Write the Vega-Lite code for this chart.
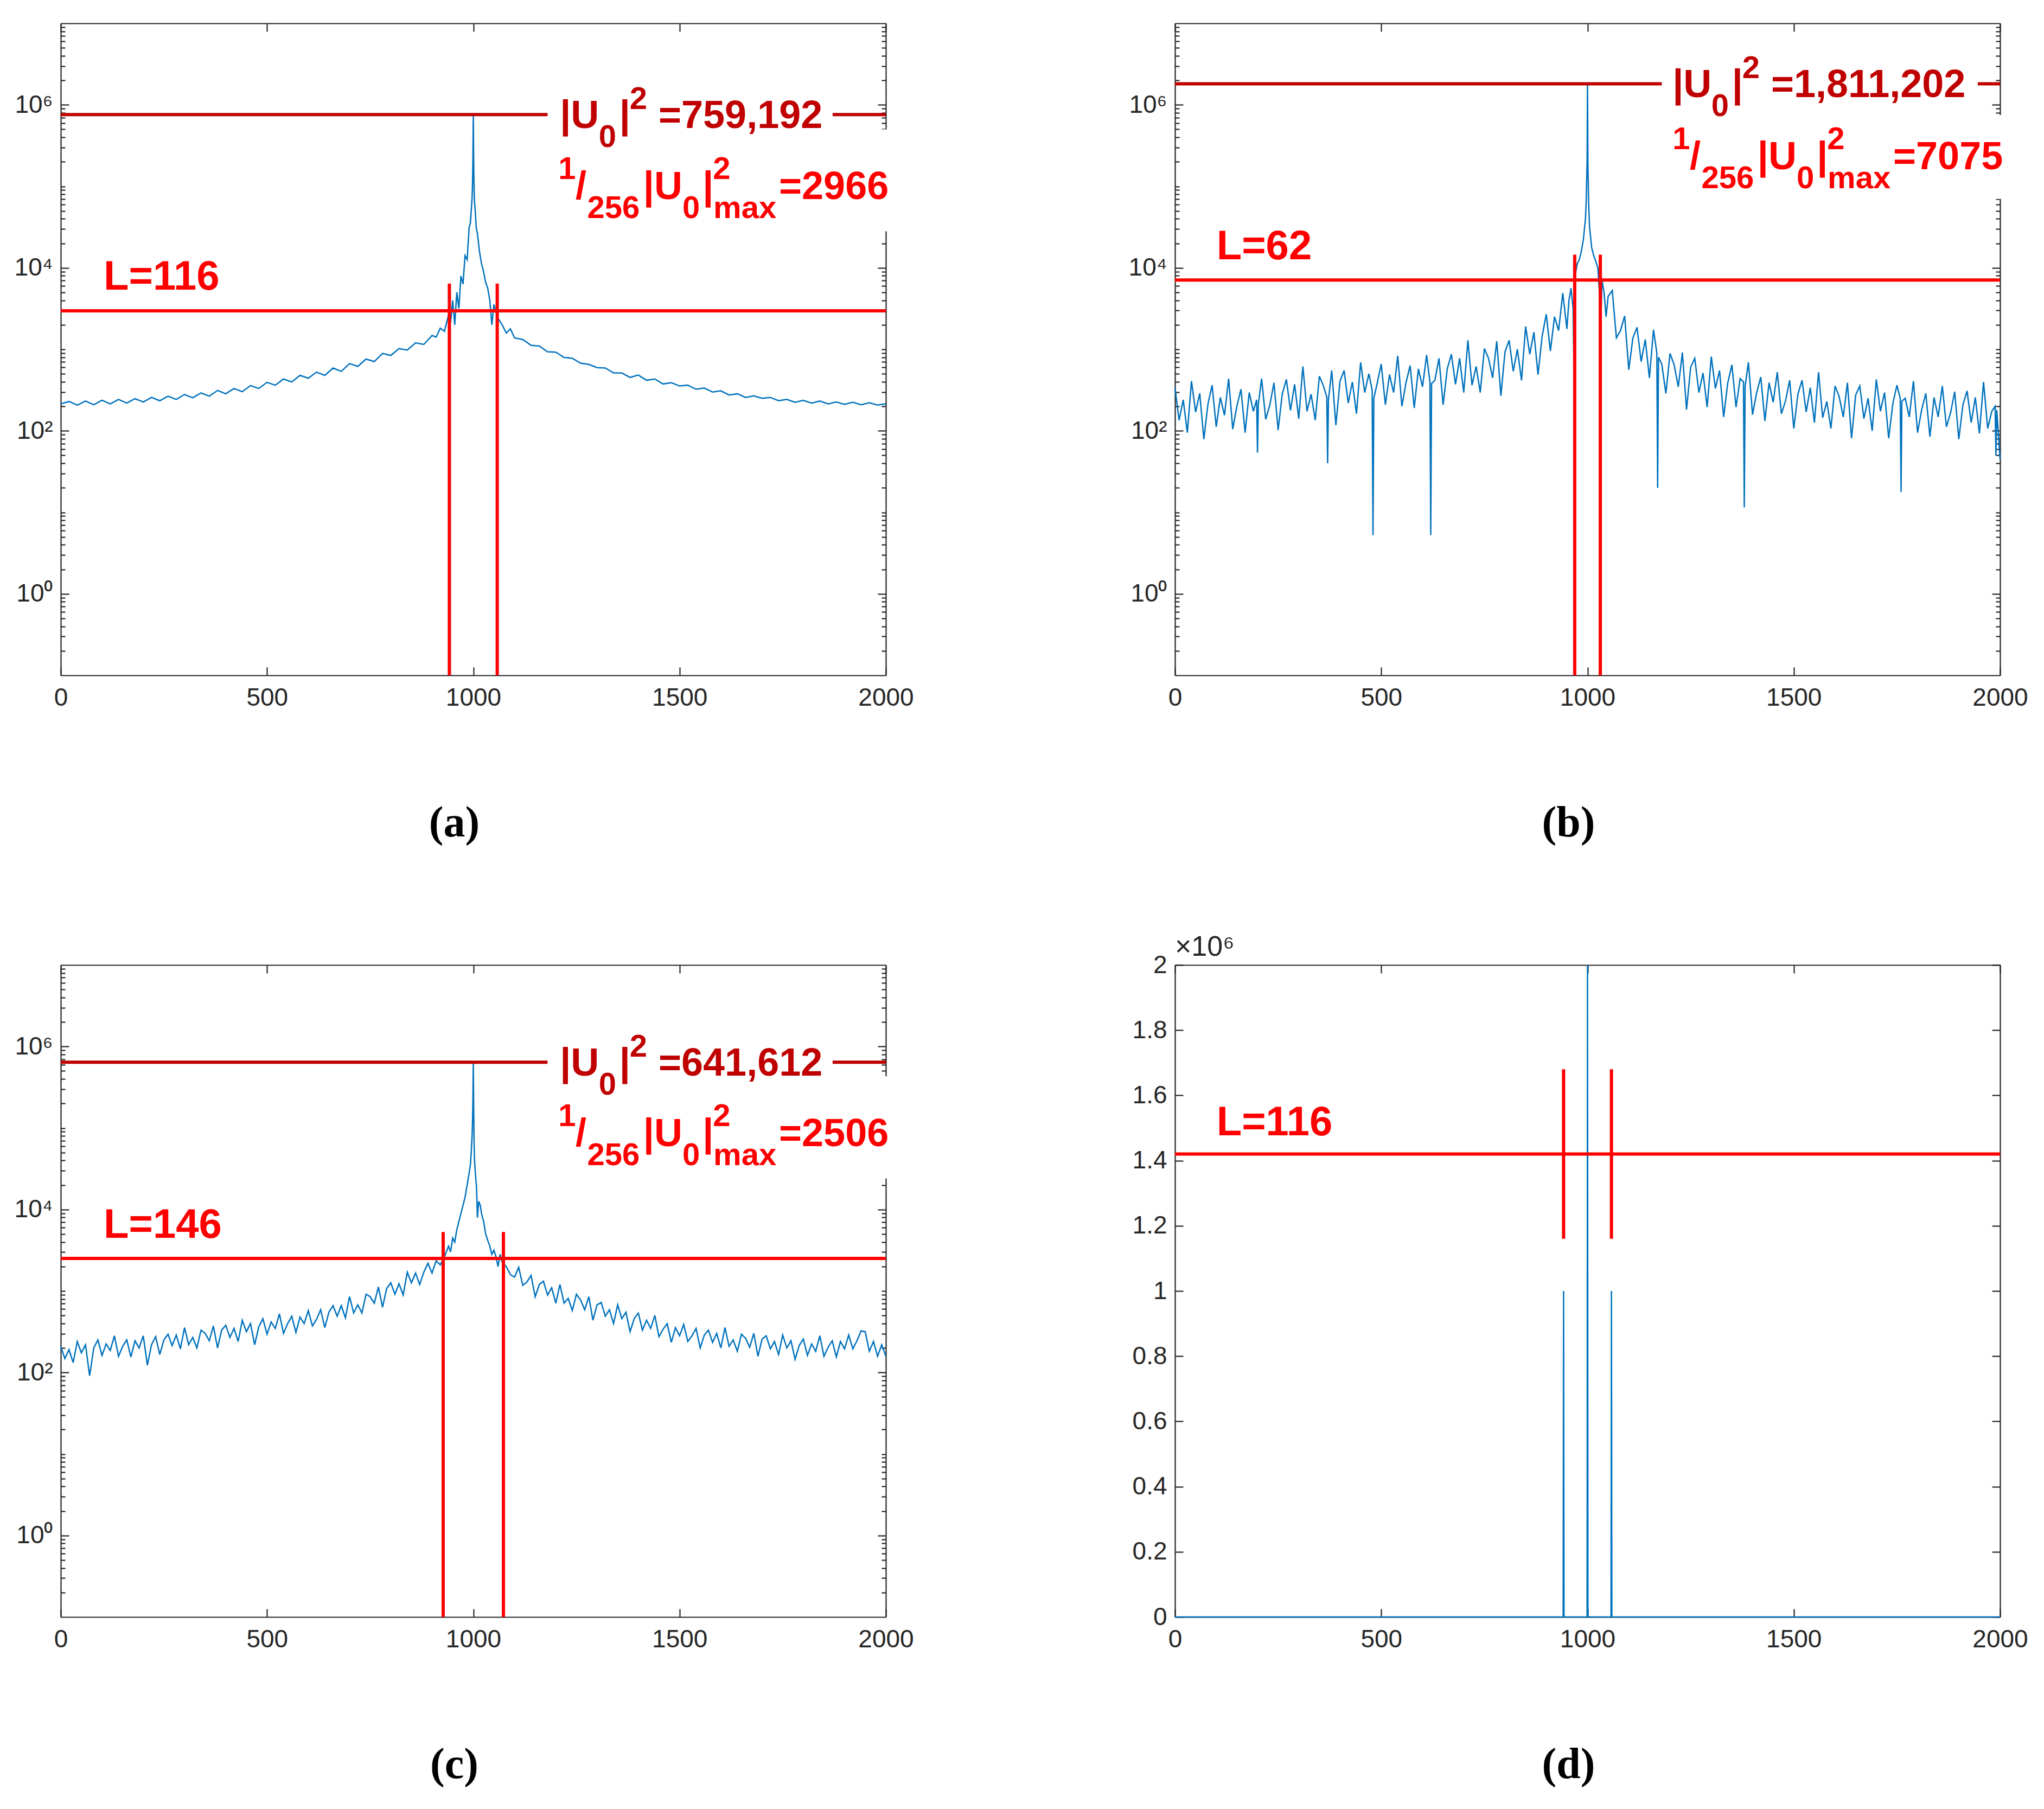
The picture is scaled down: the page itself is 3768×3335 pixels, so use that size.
{
"$schema":"https://vega.github.io/schema/vega-lite/v6.json",
"background":"white",
"padding":{"left":26,"top":41,"right":10,"bottom":10},
"config":{"view":{"stroke":null},"axis":{"grid":false,"domainColor":"#262626","domainWidth":2.2,"tickColor":"#262626","tickWidth":2.2,"labelColor":"#262626","labelFont":"Liberation Sans","labelFontSize":46,"labelFlush":false}},
"datasets":{
"a":[{"x":0,"y":214},{"x":20,"y":229},{"x":40,"y":207},{"x":60,"y":232},{"x":80,"y":209},{"x":100,"y":237},{"x":120,"y":214},{"x":140,"y":243},{"x":160,"y":219},{"x":180,"y":248},{"x":200,"y":226},{"x":220,"y":257},{"x":240,"y":234},{"x":260,"y":266},{"x":280,"y":243},{"x":300,"y":279},{"x":320,"y":254},{"x":340,"y":292},{"x":360,"y":266},{"x":380,"y":313},{"x":400,"y":285},{"x":420,"y":331},{"x":440,"y":302},{"x":460,"y":359},{"x":480,"y":331},{"x":500,"y":394},{"x":520,"y":363},{"x":540,"y":432},{"x":560,"y":398},{"x":580,"y":479},{"x":600,"y":442},{"x":620,"y":525},{"x":640,"y":479},{"x":660,"y":589},{"x":680,"y":537},{"x":700,"y":668},{"x":720,"y":617},{"x":740,"y":759},{"x":760,"y":708},{"x":780,"y":891},{"x":800,"y":841},{"x":820,"y":1023},{"x":840,"y":977},{"x":860,"y":1202},{"x":880,"y":1148},{"x":900,"y":1479},{"x":910,"y":1413},{"x":920,"y":1820},{"x":930,"y":1660},{"x":940,"y":2630},{"x":945,"y":2138},{"x":950,"y":3981},{"x":955,"y":1995},{"x":960,"y":5012},{"x":965,"y":3162},{"x":970,"y":7943},{"x":975,"y":6310},{"x":980,"y":14125},{"x":985,"y":12589},{"x":990,"y":31623},{"x":993,"y":35481},{"x":995,"y":50119},{"x":997,"y":70795},{"x":998,"y":100000},{"x":999,"y":199526},{"x":1000,"y":759192},{"x":1001,"y":177828},{"x":1002,"y":89125},{"x":1003,"y":63096},{"x":1005,"y":47863},{"x":1007,"y":31623},{"x":1010,"y":26303},{"x":1015,"y":15849},{"x":1020,"y":11220},{"x":1025,"y":8913},{"x":1030,"y":6607},{"x":1035,"y":5623},{"x":1040,"y":3981},{"x":1045,"y":1995},{"x":1050,"y":3548},{"x":1055,"y":2818},{"x":1060,"y":2399},{"x":1070,"y":1995},{"x":1080,"y":1585},{"x":1090,"y":1778},{"x":1100,"y":1380},{"x":1120,"y":1318},{"x":1140,"y":1122},{"x":1160,"y":1096},{"x":1180,"y":933},{"x":1200,"y":923},{"x":1220,"y":794},{"x":1240,"y":776},{"x":1260,"y":676},{"x":1280,"y":653},{"x":1300,"y":596},{"x":1320,"y":589},{"x":1340,"y":513},{"x":1360,"y":513},{"x":1380,"y":452},{"x":1400,"y":484},{"x":1420,"y":417},{"x":1440,"y":432},{"x":1460,"y":376},{"x":1480,"y":389},{"x":1500,"y":355},{"x":1520,"y":363},{"x":1540,"y":324},{"x":1560,"y":335},{"x":1580,"y":299},{"x":1600,"y":309},{"x":1620,"y":275},{"x":1640,"y":285},{"x":1660,"y":257},{"x":1680,"y":269},{"x":1700,"y":251},{"x":1720,"y":257},{"x":1740,"y":234},{"x":1760,"y":243},{"x":1780,"y":224},{"x":1800,"y":237},{"x":1820,"y":219},{"x":1840,"y":232},{"x":1860,"y":214},{"x":1880,"y":226},{"x":1900,"y":211},{"x":1920,"y":224},{"x":1940,"y":209},{"x":1960,"y":221},{"x":1980,"y":207},{"x":2000,"y":214}],
"b":[{"x":0,"y":339},{"x":10,"y":135},{"x":20,"y":240},{"x":30,"y":95},{"x":40,"y":407},{"x":50,"y":170},{"x":60,"y":288},{"x":70,"y":79},{"x":80,"y":214},{"x":90,"y":363},{"x":100,"y":112},{"x":110,"y":257},{"x":120,"y":155},{"x":130,"y":437},{"x":140,"y":105},{"x":150,"y":200},{"x":160,"y":324},{"x":170,"y":95},{"x":180,"y":295},{"x":190,"y":174},{"x":198,"y":240},{"x":200,"y":54},{"x":202,"y":209},{"x":210,"y":437},{"x":220,"y":138},{"x":230,"y":209},{"x":240,"y":389},{"x":250,"y":102},{"x":260,"y":282},{"x":270,"y":427},{"x":280,"y":178},{"x":290,"y":372},{"x":300,"y":141},{"x":310,"y":617},{"x":320,"y":174},{"x":330,"y":282},{"x":340,"y":135},{"x":350,"y":468},{"x":360,"y":355},{"x":368,"y":260},{"x":370,"y":40},{"x":372,"y":240},{"x":380,"y":550},{"x":390,"y":117},{"x":400,"y":407},{"x":410,"y":550},{"x":420,"y":219},{"x":430,"y":398},{"x":440,"y":162},{"x":450,"y":692},{"x":460,"y":295},{"x":470,"y":501},{"x":478,"y":316},{"x":480,"y":5.25},{"x":482,"y":251},{"x":490,"y":380},{"x":500,"y":661},{"x":510,"y":209},{"x":520,"y":490},{"x":530,"y":295},{"x":540,"y":832},{"x":550,"y":200},{"x":560,"y":389},{"x":570,"y":631},{"x":580,"y":191},{"x":590,"y":575},{"x":600,"y":347},{"x":610,"y":851},{"x":618,"y":400},{"x":620,"y":5.25},{"x":622,"y":380},{"x":630,"y":417},{"x":640,"y":776},{"x":650,"y":209},{"x":660,"y":575},{"x":670,"y":871},{"x":680,"y":372},{"x":690,"y":776},{"x":700,"y":295},{"x":710,"y":1288},{"x":720,"y":363},{"x":730,"y":617},{"x":740,"y":295},{"x":750,"y":1023},{"x":760,"y":776},{"x":770,"y":447},{"x":780,"y":1259},{"x":790,"y":269},{"x":800,"y":933},{"x":810,"y":1288},{"x":820,"y":537},{"x":830,"y":1000},{"x":840,"y":417},{"x":850,"y":1905},{"x":860,"y":871},{"x":870,"y":1622},{"x":880,"y":490},{"x":890,"y":1445},{"x":900,"y":2692},{"x":910,"y":955},{"x":920,"y":2512},{"x":930,"y":1698},{"x":940,"y":4898},{"x":950,"y":1778},{"x":955,"y":3981},{"x":960,"y":5623},{"x":965,"y":3162},{"x":967,"y":562},{"x":970,"y":7943},{"x":975,"y":11220},{"x":980,"y":12589},{"x":985,"y":15849},{"x":990,"y":22387},{"x":995,"y":39811},{"x":997,"y":70795},{"x":999,"y":199526},{"x":1000,"y":1811202},{"x":1001,"y":177828},{"x":1003,"y":56234},{"x":1005,"y":31623},{"x":1010,"y":17783},{"x":1015,"y":14125},{"x":1020,"y":12023},{"x":1025,"y":10000},{"x":1030,"y":3981},{"x":1032,"y":1778},{"x":1035,"y":7079},{"x":1040,"y":5012},{"x":1045,"y":2512},{"x":1050,"y":4467},{"x":1060,"y":5248},{"x":1070,"y":1380},{"x":1080,"y":1698},{"x":1090,"y":2570},{"x":1100,"y":562},{"x":1110,"y":1380},{"x":1120,"y":1862},{"x":1130,"y":708},{"x":1140,"y":1318},{"x":1150,"y":447},{"x":1160,"y":1738},{"x":1168,"y":900},{"x":1170,"y":20},{"x":1172,"y":800},{"x":1180,"y":661},{"x":1190,"y":288},{"x":1200,"y":891},{"x":1210,"y":646},{"x":1220,"y":347},{"x":1230,"y":912},{"x":1240,"y":182},{"x":1250,"y":603},{"x":1260,"y":776},{"x":1270,"y":295},{"x":1280,"y":513},{"x":1290,"y":195},{"x":1300,"y":813},{"x":1310,"y":331},{"x":1320,"y":550},{"x":1330,"y":148},{"x":1340,"y":389},{"x":1350,"y":646},{"x":1360,"y":195},{"x":1370,"y":437},{"x":1378,"y":400},{"x":1380,"y":11.5},{"x":1382,"y":350},{"x":1390,"y":692},{"x":1400,"y":158},{"x":1410,"y":295},{"x":1420,"y":457},{"x":1430,"y":132},{"x":1440,"y":389},{"x":1450,"y":224},{"x":1460,"y":525},{"x":1470,"y":162},{"x":1480,"y":234},{"x":1490,"y":417},{"x":1500,"y":107},{"x":1510,"y":282},{"x":1520,"y":417},{"x":1530,"y":170},{"x":1540,"y":339},{"x":1550,"y":126},{"x":1560,"y":525},{"x":1570,"y":145},{"x":1580,"y":229},{"x":1590,"y":107},{"x":1600,"y":355},{"x":1610,"y":263},{"x":1620,"y":148},{"x":1630,"y":389},{"x":1640,"y":81},{"x":1650,"y":275},{"x":1660,"y":355},{"x":1670,"y":141},{"x":1680,"y":251},{"x":1690,"y":100},{"x":1700,"y":427},{"x":1710,"y":174},{"x":1720,"y":295},{"x":1730,"y":81},{"x":1740,"y":214},{"x":1750,"y":363},{"x":1758,"y":250},{"x":1760,"y":17.8},{"x":1762,"y":230},{"x":1770,"y":251},{"x":1780,"y":148},{"x":1790,"y":407},{"x":1800,"y":95},{"x":1810,"y":182},{"x":1820,"y":288},{"x":1830,"y":85},{"x":1840,"y":257},{"x":1850,"y":148},{"x":1860,"y":355},{"x":1870,"y":112},{"x":1880,"y":166},{"x":1890,"y":302},{"x":1900,"y":79},{"x":1910,"y":209},{"x":1920,"y":309},{"x":1930,"y":126},{"x":1940,"y":257},{"x":1950,"y":93},{"x":1960,"y":398},{"x":1970,"y":107},{"x":1980,"y":174},{"x":1988,"y":200},{"x":1990,"y":50},{"x":1992,"y":180},{"x":2000,"y":45}],
"c":[{"x":0,"y":209},{"x":10,"y":148},{"x":20,"y":191},{"x":30,"y":132},{"x":40,"y":240},{"x":50,"y":174},{"x":60,"y":219},{"x":70,"y":91},{"x":80,"y":200},{"x":90,"y":251},{"x":100,"y":162},{"x":110,"y":224},{"x":120,"y":186},{"x":130,"y":282},{"x":140,"y":158},{"x":150,"y":209},{"x":160,"y":251},{"x":170,"y":155},{"x":180,"y":245},{"x":190,"y":200},{"x":200,"y":282},{"x":210,"y":123},{"x":220,"y":219},{"x":230,"y":275},{"x":240,"y":166},{"x":250,"y":251},{"x":260,"y":295},{"x":270,"y":214},{"x":280,"y":288},{"x":290,"y":195},{"x":300,"y":355},{"x":310,"y":219},{"x":320,"y":269},{"x":330,"y":200},{"x":340,"y":331},{"x":350,"y":302},{"x":360,"y":245},{"x":370,"y":372},{"x":380,"y":200},{"x":390,"y":331},{"x":400,"y":380},{"x":410,"y":269},{"x":420,"y":347},{"x":430,"y":240},{"x":440,"y":437},{"x":450,"y":316},{"x":460,"y":398},{"x":470,"y":219},{"x":480,"y":363},{"x":490,"y":457},{"x":500,"y":295},{"x":510,"y":417},{"x":520,"y":347},{"x":530,"y":525},{"x":540,"y":302},{"x":550,"y":398},{"x":560,"y":490},{"x":570,"y":309},{"x":580,"y":479},{"x":590,"y":398},{"x":600,"y":575},{"x":610,"y":372},{"x":620,"y":447},{"x":630,"y":589},{"x":640,"y":355},{"x":650,"y":550},{"x":660,"y":661},{"x":670,"y":490},{"x":680,"y":661},{"x":690,"y":468},{"x":700,"y":851},{"x":710,"y":537},{"x":720,"y":676},{"x":730,"y":537},{"x":740,"y":912},{"x":750,"y":851},{"x":760,"y":708},{"x":770,"y":1122},{"x":780,"y":631},{"x":790,"y":1072},{"x":800,"y":1259},{"x":810,"y":912},{"x":820,"y":1230},{"x":830,"y":891},{"x":840,"y":1698},{"x":850,"y":1259},{"x":860,"y":1660},{"x":870,"y":1202},{"x":880,"y":1698},{"x":890,"y":2188},{"x":900,"y":1660},{"x":910,"y":2344},{"x":920,"y":2089},{"x":930,"y":2630},{"x":940,"y":3548},{"x":945,"y":3020},{"x":950,"y":4467},{"x":955,"y":3981},{"x":960,"y":5623},{"x":965,"y":7079},{"x":970,"y":8913},{"x":975,"y":11220},{"x":980,"y":14125},{"x":985,"y":19953},{"x":990,"y":28184},{"x":993,"y":35481},{"x":995,"y":50119},{"x":997,"y":79433},{"x":998,"y":112202},{"x":999,"y":199526},{"x":1000,"y":641612},{"x":1001,"y":158489},{"x":1002,"y":63096},{"x":1003,"y":39811},{"x":1005,"y":28184},{"x":1008,"y":17783},{"x":1010,"y":7943},{"x":1013,"y":12589},{"x":1017,"y":11220},{"x":1020,"y":8913},{"x":1025,"y":7079},{"x":1030,"y":5012},{"x":1035,"y":4169},{"x":1040,"y":3548},{"x":1045,"y":2818},{"x":1050,"y":3162},{"x":1055,"y":2630},{"x":1060,"y":1995},{"x":1065,"y":2818},{"x":1070,"y":2239},{"x":1080,"y":1995},{"x":1090,"y":1585},{"x":1100,"y":1479},{"x":1110,"y":1950},{"x":1120,"y":1175},{"x":1130,"y":1288},{"x":1140,"y":1549},{"x":1150,"y":851},{"x":1160,"y":1202},{"x":1170,"y":1318},{"x":1180,"y":891},{"x":1190,"y":1096},{"x":1200,"y":708},{"x":1210,"y":1202},{"x":1220,"y":708},{"x":1230,"y":813},{"x":1240,"y":575},{"x":1250,"y":912},{"x":1260,"y":776},{"x":1270,"y":589},{"x":1280,"y":851},{"x":1290,"y":437},{"x":1300,"y":676},{"x":1310,"y":724},{"x":1320,"y":490},{"x":1330,"y":589},{"x":1340,"y":398},{"x":1350,"y":676},{"x":1360,"y":457},{"x":1370,"y":550},{"x":1380,"y":316},{"x":1390,"y":457},{"x":1400,"y":537},{"x":1410,"y":331},{"x":1420,"y":437},{"x":1430,"y":347},{"x":1440,"y":501},{"x":1450,"y":275},{"x":1460,"y":339},{"x":1470,"y":398},{"x":1480,"y":234},{"x":1490,"y":355},{"x":1500,"y":282},{"x":1510,"y":389},{"x":1520,"y":240},{"x":1530,"y":282},{"x":1540,"y":347},{"x":1550,"y":200},{"x":1560,"y":288},{"x":1570,"y":331},{"x":1580,"y":234},{"x":1590,"y":302},{"x":1600,"y":200},{"x":1610,"y":355},{"x":1620,"y":209},{"x":1630,"y":251},{"x":1640,"y":182},{"x":1650,"y":295},{"x":1660,"y":263},{"x":1670,"y":204},{"x":1680,"y":302},{"x":1690,"y":158},{"x":1700,"y":257},{"x":1710,"y":282},{"x":1720,"y":195},{"x":1730,"y":240},{"x":1740,"y":166},{"x":1750,"y":288},{"x":1760,"y":200},{"x":1770,"y":245},{"x":1780,"y":145},{"x":1790,"y":214},{"x":1800,"y":257},{"x":1810,"y":162},{"x":1820,"y":224},{"x":1830,"y":182},{"x":1840,"y":282},{"x":1850,"y":158},{"x":1860,"y":204},{"x":1870,"y":245},{"x":1880,"y":155},{"x":1890,"y":240},{"x":1900,"y":195},{"x":1910,"y":288},{"x":1920,"y":195},{"x":1930,"y":245},{"x":1940,"y":324},{"x":1950,"y":316},{"x":1960,"y":182},{"x":1970,"y":240},{"x":1980,"y":158},{"x":1990,"y":219},{"x":2000,"y":158}],
"d":[{"x":0,"y":0},{"x":941,"y":0},{"x":942,"y":1000000},{"x":943,"y":0},{"x":999,"y":0},{"x":1000,"y":2000000},{"x":1001,"y":0},{"x":1057,"y":0},{"x":1058,"y":1000000},{"x":1059,"y":0},{"x":2000,"y":0}]
},
"columns":2,
"bounds":"flush",
"spacing":{"row":534,"column":533},
"concat":[
{"width":1521,"height":1202,
"title":{"text":"(a)","orient":"bottom","font":"Liberation Serif","fontSize":80,"fontWeight":"bold","color":"black","offset":170,"dx":-35},
"resolve":{"axis":{"x":"independent","y":"independent"}},
"layer":[
{"data":{"name":"a"},"mark":{"type":"line","color":"#0072BD","strokeWidth":2.5},
"encoding":{"x":{"field":"x","type":"quantitative","scale":{"domain":[0,2000],"nice":false,"zero":false},"axis":{"orient":"bottom","values":[0,500,1000,1500,2000],"format":"d","tickSize":-15,"labelPadding":34,"title":null}},
"y":{"field":"y","type":"quantitative","scale":{"type":"log","domain":[0.1,10000000],"nice":false},"axis":{"orient":"left","values":[1,100,10000,1000000],"labelExpr":"datum.value == 1 ? '10⁰' : datum.value == 100 ? '10²' : datum.value == 10000 ? '10⁴' : '10⁶'","tickSize":-15,"labelPadding":30,"title":null}}}},
{"data":{"values":[{"x":0,"x2":2000,"y":2966}]},"mark":{"type":"rule","color":"#FF0000","strokeWidth":6},
"encoding":{"x":{"field":"x","type":"quantitative","scale":{"domain":[0,2000],"nice":false,"zero":false},"axis":{"orient":"top","values":[0,500,1000,1500,2000],"tickSize":-15,"labels":false,"title":null}},"x2":{"field":"x2"},
"y":{"field":"y","type":"quantitative","scale":{"type":"log","domain":[0.1,10000000],"nice":false},"axis":{"orient":"right","values":[1,100,10000,1000000],"tickSize":-15,"labels":false,"title":null}}}},
{"data":{"values":[{"x":942,"y":0.1,"y2":6400},{"x":1058,"y":0.1,"y2":6400}]},"mark":{"type":"rule","color":"#FF0000","strokeWidth":6},
"encoding":{"x":{"field":"x","type":"quantitative","scale":{"domain":[0,2000],"nice":false,"zero":false},"axis":null},
"y":{"field":"y","type":"quantitative","scale":{"type":"log","domain":[0.1,10000000],"nice":false},"axis":{"orient":"left","values":[0.2,0.3,0.4,0.5,0.6,0.7,0.8,0.9,2,3,4,5,6,7,8,9,10,20,30,40,50,60,70,80,90,200,300,400,500,600,700,800,900,1000,2000,3000,4000,5000,6000,7000,8000,9000,20000,30000,40000,50000,60000,70000,80000,90000,100000,200000,300000,400000,500000,600000,700000,800000,900000,2000000,3000000,4000000,5000000,6000000,7000000,8000000,9000000],"tickSize":-8,"labels":false,"domain":false,"title":null}},"y2":{"field":"y2"}}},
{"data":{"values":[{"x":0,"x2":1180,"y":759192},{"x":1871,"x2":2000,"y":759192}]},"mark":{"type":"rule","color":"#C00000","strokeWidth":6},
"encoding":{"x":{"field":"x","type":"quantitative","scale":{"domain":[0,2000],"nice":false,"zero":false},"axis":null},"x2":{"field":"x2"},
"y":{"field":"y","type":"quantitative","scale":{"type":"log","domain":[0.1,10000000],"nice":false},"axis":{"orient":"right","values":[0.2,0.3,0.4,0.5,0.6,0.7,0.8,0.9,2,3,4,5,6,7,8,9,10,20,30,40,50,60,70,80,90,200,300,400,500,600,700,800,900,1000,2000,3000,4000,5000,6000,7000,8000,9000,20000,30000,40000,50000,60000,70000,80000,90000,100000,200000,300000,400000,500000,600000,700000,800000,900000,2000000,3000000,4000000,5000000,6000000,7000000,8000000,9000000],"tickSize":-8,"labels":false,"domain":false,"title":null}}}},
{"data":{"values":[{"x":1190,"x2":2045,"y":28000,"y2":500000}]},"mark":{"type":"rect","color":"white"},
"encoding":{"x":{"field":"x","type":"quantitative","scale":{"domain":[0,2000],"nice":false,"zero":false},"axis":null},"x2":{"field":"x2"},
"y":{"field":"y","type":"quantitative","scale":{"type":"log","domain":[0.1,10000000],"nice":false},"axis":null},"y2":{"field":"y2"}}},
{"data":{"values":[{"x":1210,"y":759192,"t":"|U"},{"x":1354,"y":759192,"t":"|"},{"x":1449,"y":759192,"t":"=759,192"}]},"mark":{"type":"text","align":"left","baseline":"alphabetic","dy":25,"font":"Liberation Sans","fontWeight":"bold","fontSize":72,"color":"#C00000"},
"encoding":{"x":{"field":"x","type":"quantitative","scale":{"domain":[0,2000],"nice":false,"zero":false},"axis":null},"y":{"field":"y","type":"quantitative","scale":{"type":"log","domain":[0.1,10000000],"nice":false},"axis":null},"text":{"field":"t"}}},
{"data":{"values":[{"x":1304,"y":759192,"t":"0"}]},"mark":{"type":"text","align":"left","baseline":"alphabetic","dy":60,"font":"Liberation Sans","fontWeight":"bold","fontSize":58,"color":"#C00000"},
"encoding":{"x":{"field":"x","type":"quantitative","scale":{"domain":[0,2000],"nice":false,"zero":false},"axis":null},"y":{"field":"y","type":"quantitative","scale":{"type":"log","domain":[0.1,10000000],"nice":false},"axis":null},"text":{"field":"t"}}},
{"data":{"values":[{"x":1379,"y":759192,"t":"2"}]},"mark":{"type":"text","align":"left","baseline":"alphabetic","dy":-10,"font":"Liberation Sans","fontWeight":"bold","fontSize":58,"color":"#C00000"},
"encoding":{"x":{"field":"x","type":"quantitative","scale":{"domain":[0,2000],"nice":false,"zero":false},"axis":null},"y":{"field":"y","type":"quantitative","scale":{"type":"log","domain":[0.1,10000000],"nice":false},"axis":null},"text":{"field":"t"}}},
{"data":{"values":[{"x":1248,"y":102000,"t":"/"},{"x":1412,"y":102000,"t":"|U"},{"x":1556,"y":102000,"t":"|"},{"x":1741,"y":102000,"t":"=2966"}]},"mark":{"type":"text","align":"left","baseline":"alphabetic","dy":25,"font":"Liberation Sans","fontWeight":"bold","fontSize":72,"color":"#FF0000"},
"encoding":{"x":{"field":"x","type":"quantitative","scale":{"domain":[0,2000],"nice":false,"zero":false},"axis":null},"y":{"field":"y","type":"quantitative","scale":{"type":"log","domain":[0.1,10000000],"nice":false},"axis":null},"text":{"field":"t"}}},
{"data":{"values":[{"x":1276,"y":102000,"t":"256"},{"x":1507,"y":102000,"t":"0"},{"x":1582,"y":102000,"t":"max"}]},"mark":{"type":"text","align":"left","baseline":"alphabetic","dy":60,"font":"Liberation Sans","fontWeight":"bold","fontSize":58,"color":"#FF0000"},
"encoding":{"x":{"field":"x","type":"quantitative","scale":{"domain":[0,2000],"nice":false,"zero":false},"axis":null},"y":{"field":"y","type":"quantitative","scale":{"type":"log","domain":[0.1,10000000],"nice":false},"axis":null},"text":{"field":"t"}}},
{"data":{"values":[{"x":1206,"y":102000,"t":"1"},{"x":1581,"y":102000,"t":"2"}]},"mark":{"type":"text","align":"left","baseline":"alphabetic","dy":-12,"font":"Liberation Sans","fontWeight":"bold","fontSize":58,"color":"#FF0000"},
"encoding":{"x":{"field":"x","type":"quantitative","scale":{"domain":[0,2000],"nice":false,"zero":false},"axis":null},"y":{"field":"y","type":"quantitative","scale":{"type":"log","domain":[0.1,10000000],"nice":false},"axis":null},"text":{"field":"t"}}},
{"data":{"values":[{"x":104,"y":7700,"t":"L=116"}]},"mark":{"type":"text","align":"left","baseline":"middle","font":"Liberation Sans","fontWeight":"bold","fontSize":76,"color":"#FF0000"},
"encoding":{"x":{"field":"x","type":"quantitative","scale":{"domain":[0,2000],"nice":false,"zero":false},"axis":null},"y":{"field":"y","type":"quantitative","scale":{"type":"log","domain":[0.1,10000000],"nice":false},"axis":null},"text":{"field":"t"}}}
]},
{"width":1521,"height":1202,
"title":{"text":"(b)","orient":"bottom","font":"Liberation Serif","fontSize":80,"fontWeight":"bold","color":"black","offset":170,"dx":-35},
"resolve":{"axis":{"x":"independent","y":"independent"}},
"layer":[
{"data":{"name":"b"},"mark":{"type":"line","color":"#0072BD","strokeWidth":2.5},
"encoding":{"x":{"field":"x","type":"quantitative","scale":{"domain":[0,2000],"nice":false,"zero":false},"axis":{"orient":"bottom","values":[0,500,1000,1500,2000],"format":"d","tickSize":-15,"labelPadding":34,"title":null}},
"y":{"field":"y","type":"quantitative","scale":{"type":"log","domain":[0.1,10000000],"nice":false},"axis":{"orient":"left","values":[1,100,10000,1000000],"labelExpr":"datum.value == 1 ? '10⁰' : datum.value == 100 ? '10²' : datum.value == 10000 ? '10⁴' : '10⁶'","tickSize":-15,"labelPadding":30,"title":null}}}},
{"data":{"values":[{"x":0,"x2":2000,"y":7075}]},"mark":{"type":"rule","color":"#FF0000","strokeWidth":6},
"encoding":{"x":{"field":"x","type":"quantitative","scale":{"domain":[0,2000],"nice":false,"zero":false},"axis":{"orient":"top","values":[0,500,1000,1500,2000],"tickSize":-15,"labels":false,"title":null}},"x2":{"field":"x2"},
"y":{"field":"y","type":"quantitative","scale":{"type":"log","domain":[0.1,10000000],"nice":false},"axis":{"orient":"right","values":[1,100,10000,1000000],"tickSize":-15,"labels":false,"title":null}}}},
{"data":{"values":[{"x":969,"y":0.1,"y2":14500},{"x":1031,"y":0.1,"y2":14500}]},"mark":{"type":"rule","color":"#FF0000","strokeWidth":6},
"encoding":{"x":{"field":"x","type":"quantitative","scale":{"domain":[0,2000],"nice":false,"zero":false},"axis":null},
"y":{"field":"y","type":"quantitative","scale":{"type":"log","domain":[0.1,10000000],"nice":false},"axis":{"orient":"left","values":[0.2,0.3,0.4,0.5,0.6,0.7,0.8,0.9,2,3,4,5,6,7,8,9,10,20,30,40,50,60,70,80,90,200,300,400,500,600,700,800,900,1000,2000,3000,4000,5000,6000,7000,8000,9000,20000,30000,40000,50000,60000,70000,80000,90000,100000,200000,300000,400000,500000,600000,700000,800000,900000,2000000,3000000,4000000,5000000,6000000,7000000,8000000,9000000],"tickSize":-8,"labels":false,"domain":false,"title":null}},"y2":{"field":"y2"}}},
{"data":{"values":[{"x":0,"x2":1180,"y":1811202},{"x":1946,"x2":2000,"y":1811202}]},"mark":{"type":"rule","color":"#C00000","strokeWidth":6},
"encoding":{"x":{"field":"x","type":"quantitative","scale":{"domain":[0,2000],"nice":false,"zero":false},"axis":null},"x2":{"field":"x2"},
"y":{"field":"y","type":"quantitative","scale":{"type":"log","domain":[0.1,10000000],"nice":false},"axis":{"orient":"right","values":[0.2,0.3,0.4,0.5,0.6,0.7,0.8,0.9,2,3,4,5,6,7,8,9,10,20,30,40,50,60,70,80,90,200,300,400,500,600,700,800,900,1000,2000,3000,4000,5000,6000,7000,8000,9000,20000,30000,40000,50000,60000,70000,80000,90000,100000,200000,300000,400000,500000,600000,700000,800000,900000,2000000,3000000,4000000,5000000,6000000,7000000,8000000,9000000],"tickSize":-8,"labels":false,"domain":false,"title":null}}}},
{"data":{"values":[{"x":1190,"x2":2045,"y":70000,"y2":750000}]},"mark":{"type":"rect","color":"white"},
"encoding":{"x":{"field":"x","type":"quantitative","scale":{"domain":[0,2000],"nice":false,"zero":false},"axis":null},"x2":{"field":"x2"},
"y":{"field":"y","type":"quantitative","scale":{"type":"log","domain":[0.1,10000000],"nice":false},"axis":null},"y2":{"field":"y2"}}},
{"data":{"values":[{"x":1206,"y":1811202,"t":"|U"},{"x":1350,"y":1811202,"t":"|"},{"x":1445,"y":1811202,"t":"=1,811,202"}]},"mark":{"type":"text","align":"left","baseline":"alphabetic","dy":25,"font":"Liberation Sans","fontWeight":"bold","fontSize":72,"color":"#C00000"},
"encoding":{"x":{"field":"x","type":"quantitative","scale":{"domain":[0,2000],"nice":false,"zero":false},"axis":null},"y":{"field":"y","type":"quantitative","scale":{"type":"log","domain":[0.1,10000000],"nice":false},"axis":null},"text":{"field":"t"}}},
{"data":{"values":[{"x":1300,"y":1811202,"t":"0"}]},"mark":{"type":"text","align":"left","baseline":"alphabetic","dy":60,"font":"Liberation Sans","fontWeight":"bold","fontSize":58,"color":"#C00000"},
"encoding":{"x":{"field":"x","type":"quantitative","scale":{"domain":[0,2000],"nice":false,"zero":false},"axis":null},"y":{"field":"y","type":"quantitative","scale":{"type":"log","domain":[0.1,10000000],"nice":false},"axis":null},"text":{"field":"t"}}},
{"data":{"values":[{"x":1375,"y":1811202,"t":"2"}]},"mark":{"type":"text","align":"left","baseline":"alphabetic","dy":-10,"font":"Liberation Sans","fontWeight":"bold","fontSize":58,"color":"#C00000"},
"encoding":{"x":{"field":"x","type":"quantitative","scale":{"domain":[0,2000],"nice":false,"zero":false},"axis":null},"y":{"field":"y","type":"quantitative","scale":{"type":"log","domain":[0.1,10000000],"nice":false},"axis":null},"text":{"field":"t"}}},
{"data":{"values":[{"x":1248,"y":238000,"t":"/"},{"x":1412,"y":238000,"t":"|U"},{"x":1556,"y":238000,"t":"|"},{"x":1741,"y":238000,"t":"=7075"}]},"mark":{"type":"text","align":"left","baseline":"alphabetic","dy":25,"font":"Liberation Sans","fontWeight":"bold","fontSize":72,"color":"#FF0000"},
"encoding":{"x":{"field":"x","type":"quantitative","scale":{"domain":[0,2000],"nice":false,"zero":false},"axis":null},"y":{"field":"y","type":"quantitative","scale":{"type":"log","domain":[0.1,10000000],"nice":false},"axis":null},"text":{"field":"t"}}},
{"data":{"values":[{"x":1276,"y":238000,"t":"256"},{"x":1507,"y":238000,"t":"0"},{"x":1582,"y":238000,"t":"max"}]},"mark":{"type":"text","align":"left","baseline":"alphabetic","dy":60,"font":"Liberation Sans","fontWeight":"bold","fontSize":58,"color":"#FF0000"},
"encoding":{"x":{"field":"x","type":"quantitative","scale":{"domain":[0,2000],"nice":false,"zero":false},"axis":null},"y":{"field":"y","type":"quantitative","scale":{"type":"log","domain":[0.1,10000000],"nice":false},"axis":null},"text":{"field":"t"}}},
{"data":{"values":[{"x":1206,"y":238000,"t":"1"},{"x":1581,"y":238000,"t":"2"}]},"mark":{"type":"text","align":"left","baseline":"alphabetic","dy":-12,"font":"Liberation Sans","fontWeight":"bold","fontSize":58,"color":"#FF0000"},
"encoding":{"x":{"field":"x","type":"quantitative","scale":{"domain":[0,2000],"nice":false,"zero":false},"axis":null},"y":{"field":"y","type":"quantitative","scale":{"type":"log","domain":[0.1,10000000],"nice":false},"axis":null},"text":{"field":"t"}}},
{"data":{"values":[{"x":101,"y":18000,"t":"L=62"}]},"mark":{"type":"text","align":"left","baseline":"middle","font":"Liberation Sans","fontWeight":"bold","fontSize":76,"color":"#FF0000"},
"encoding":{"x":{"field":"x","type":"quantitative","scale":{"domain":[0,2000],"nice":false,"zero":false},"axis":null},"y":{"field":"y","type":"quantitative","scale":{"type":"log","domain":[0.1,10000000],"nice":false},"axis":null},"text":{"field":"t"}}}
]},
{"width":1521,"height":1202,
"title":{"text":"(c)","orient":"bottom","font":"Liberation Serif","fontSize":80,"fontWeight":"bold","color":"black","offset":170,"dx":-35},
"resolve":{"axis":{"x":"independent","y":"independent"}},
"layer":[
{"data":{"name":"c"},"mark":{"type":"line","color":"#0072BD","strokeWidth":2.5},
"encoding":{"x":{"field":"x","type":"quantitative","scale":{"domain":[0,2000],"nice":false,"zero":false},"axis":{"orient":"bottom","values":[0,500,1000,1500,2000],"format":"d","tickSize":-15,"labelPadding":34,"title":null}},
"y":{"field":"y","type":"quantitative","scale":{"type":"log","domain":[0.1,10000000],"nice":false},"axis":{"orient":"left","values":[1,100,10000,1000000],"labelExpr":"datum.value == 1 ? '10⁰' : datum.value == 100 ? '10²' : datum.value == 10000 ? '10⁴' : '10⁶'","tickSize":-15,"labelPadding":30,"title":null}}}},
{"data":{"values":[{"x":0,"x2":2000,"y":2506}]},"mark":{"type":"rule","color":"#FF0000","strokeWidth":6},
"encoding":{"x":{"field":"x","type":"quantitative","scale":{"domain":[0,2000],"nice":false,"zero":false},"axis":{"orient":"top","values":[0,500,1000,1500,2000],"tickSize":-15,"labels":false,"title":null}},"x2":{"field":"x2"},
"y":{"field":"y","type":"quantitative","scale":{"type":"log","domain":[0.1,10000000],"nice":false},"axis":{"orient":"right","values":[1,100,10000,1000000],"tickSize":-15,"labels":false,"title":null}}}},
{"data":{"values":[{"x":927,"y":0.1,"y2":5300},{"x":1073,"y":0.1,"y2":5300}]},"mark":{"type":"rule","color":"#FF0000","strokeWidth":6},
"encoding":{"x":{"field":"x","type":"quantitative","scale":{"domain":[0,2000],"nice":false,"zero":false},"axis":null},
"y":{"field":"y","type":"quantitative","scale":{"type":"log","domain":[0.1,10000000],"nice":false},"axis":{"orient":"left","values":[0.2,0.3,0.4,0.5,0.6,0.7,0.8,0.9,2,3,4,5,6,7,8,9,10,20,30,40,50,60,70,80,90,200,300,400,500,600,700,800,900,1000,2000,3000,4000,5000,6000,7000,8000,9000,20000,30000,40000,50000,60000,70000,80000,90000,100000,200000,300000,400000,500000,600000,700000,800000,900000,2000000,3000000,4000000,5000000,6000000,7000000,8000000,9000000],"tickSize":-8,"labels":false,"domain":false,"title":null}},"y2":{"field":"y2"}}},
{"data":{"values":[{"x":0,"x2":1180,"y":641612},{"x":1871,"x2":2000,"y":641612}]},"mark":{"type":"rule","color":"#C00000","strokeWidth":6},
"encoding":{"x":{"field":"x","type":"quantitative","scale":{"domain":[0,2000],"nice":false,"zero":false},"axis":null},"x2":{"field":"x2"},
"y":{"field":"y","type":"quantitative","scale":{"type":"log","domain":[0.1,10000000],"nice":false},"axis":{"orient":"right","values":[0.2,0.3,0.4,0.5,0.6,0.7,0.8,0.9,2,3,4,5,6,7,8,9,10,20,30,40,50,60,70,80,90,200,300,400,500,600,700,800,900,1000,2000,3000,4000,5000,6000,7000,8000,9000,20000,30000,40000,50000,60000,70000,80000,90000,100000,200000,300000,400000,500000,600000,700000,800000,900000,2000000,3000000,4000000,5000000,6000000,7000000,8000000,9000000],"tickSize":-8,"labels":false,"domain":false,"title":null}}}},
{"data":{"values":[{"x":1190,"x2":2045,"y":24000,"y2":430000}]},"mark":{"type":"rect","color":"white"},
"encoding":{"x":{"field":"x","type":"quantitative","scale":{"domain":[0,2000],"nice":false,"zero":false},"axis":null},"x2":{"field":"x2"},
"y":{"field":"y","type":"quantitative","scale":{"type":"log","domain":[0.1,10000000],"nice":false},"axis":null},"y2":{"field":"y2"}}},
{"data":{"values":[{"x":1210,"y":641612,"t":"|U"},{"x":1354,"y":641612,"t":"|"},{"x":1449,"y":641612,"t":"=641,612"}]},"mark":{"type":"text","align":"left","baseline":"alphabetic","dy":25,"font":"Liberation Sans","fontWeight":"bold","fontSize":72,"color":"#C00000"},
"encoding":{"x":{"field":"x","type":"quantitative","scale":{"domain":[0,2000],"nice":false,"zero":false},"axis":null},"y":{"field":"y","type":"quantitative","scale":{"type":"log","domain":[0.1,10000000],"nice":false},"axis":null},"text":{"field":"t"}}},
{"data":{"values":[{"x":1304,"y":641612,"t":"0"}]},"mark":{"type":"text","align":"left","baseline":"alphabetic","dy":60,"font":"Liberation Sans","fontWeight":"bold","fontSize":58,"color":"#C00000"},
"encoding":{"x":{"field":"x","type":"quantitative","scale":{"domain":[0,2000],"nice":false,"zero":false},"axis":null},"y":{"field":"y","type":"quantitative","scale":{"type":"log","domain":[0.1,10000000],"nice":false},"axis":null},"text":{"field":"t"}}},
{"data":{"values":[{"x":1379,"y":641612,"t":"2"}]},"mark":{"type":"text","align":"left","baseline":"alphabetic","dy":-10,"font":"Liberation Sans","fontWeight":"bold","fontSize":58,"color":"#C00000"},
"encoding":{"x":{"field":"x","type":"quantitative","scale":{"domain":[0,2000],"nice":false,"zero":false},"axis":null},"y":{"field":"y","type":"quantitative","scale":{"type":"log","domain":[0.1,10000000],"nice":false},"axis":null},"text":{"field":"t"}}},
{"data":{"values":[{"x":1248,"y":88000,"t":"/"},{"x":1412,"y":88000,"t":"|U"},{"x":1556,"y":88000,"t":"|"},{"x":1741,"y":88000,"t":"=2506"}]},"mark":{"type":"text","align":"left","baseline":"alphabetic","dy":25,"font":"Liberation Sans","fontWeight":"bold","fontSize":72,"color":"#FF0000"},
"encoding":{"x":{"field":"x","type":"quantitative","scale":{"domain":[0,2000],"nice":false,"zero":false},"axis":null},"y":{"field":"y","type":"quantitative","scale":{"type":"log","domain":[0.1,10000000],"nice":false},"axis":null},"text":{"field":"t"}}},
{"data":{"values":[{"x":1276,"y":88000,"t":"256"},{"x":1507,"y":88000,"t":"0"},{"x":1582,"y":88000,"t":"max"}]},"mark":{"type":"text","align":"left","baseline":"alphabetic","dy":60,"font":"Liberation Sans","fontWeight":"bold","fontSize":58,"color":"#FF0000"},
"encoding":{"x":{"field":"x","type":"quantitative","scale":{"domain":[0,2000],"nice":false,"zero":false},"axis":null},"y":{"field":"y","type":"quantitative","scale":{"type":"log","domain":[0.1,10000000],"nice":false},"axis":null},"text":{"field":"t"}}},
{"data":{"values":[{"x":1206,"y":88000,"t":"1"},{"x":1581,"y":88000,"t":"2"}]},"mark":{"type":"text","align":"left","baseline":"alphabetic","dy":-12,"font":"Liberation Sans","fontWeight":"bold","fontSize":58,"color":"#FF0000"},
"encoding":{"x":{"field":"x","type":"quantitative","scale":{"domain":[0,2000],"nice":false,"zero":false},"axis":null},"y":{"field":"y","type":"quantitative","scale":{"type":"log","domain":[0.1,10000000],"nice":false},"axis":null},"text":{"field":"t"}}},
{"data":{"values":[{"x":104,"y":6400,"t":"L=146"}]},"mark":{"type":"text","align":"left","baseline":"middle","font":"Liberation Sans","fontWeight":"bold","fontSize":76,"color":"#FF0000"},
"encoding":{"x":{"field":"x","type":"quantitative","scale":{"domain":[0,2000],"nice":false,"zero":false},"axis":null},"y":{"field":"y","type":"quantitative","scale":{"type":"log","domain":[0.1,10000000],"nice":false},"axis":null},"text":{"field":"t"}}}
]},
{"width":1521,"height":1202,
"title":{"text":"(d)","orient":"bottom","font":"Liberation Serif","fontSize":80,"fontWeight":"bold","color":"black","offset":170,"dx":-35},
"resolve":{"axis":{"x":"independent","y":"independent"}},
"layer":[
{"data":{"name":"d"},"mark":{"type":"line","color":"#0072BD","strokeWidth":2.5},
"encoding":{"x":{"field":"x","type":"quantitative","scale":{"domain":[0,2000],"nice":false,"zero":false},"axis":{"orient":"bottom","values":[0,500,1000,1500,2000],"format":"d","tickSize":-15,"labelPadding":34,"title":null}},
"y":{"field":"y","type":"quantitative","scale":{"domain":[0,2000000],"nice":false,"zero":false},"axis":{"orient":"left","values":[0,200000,400000,600000,800000,1000000,1200000,1400000,1600000,1800000,2000000],"labelExpr":"format(datum.value/1000000, '~g')","tickSize":-15,"labelPadding":30,"title":null}}}},
{"data":{"values":[{"x":0,"x2":2000,"y":1420000}]},"mark":{"type":"rule","color":"#FF0000","strokeWidth":6},
"encoding":{"x":{"field":"x","type":"quantitative","scale":{"domain":[0,2000],"nice":false,"zero":false},"axis":{"orient":"top","values":[0,500,1000,1500,2000],"tickSize":-15,"labels":false,"title":null}},"x2":{"field":"x2"},
"y":{"field":"y","type":"quantitative","scale":{"domain":[0,2000000],"nice":false,"zero":false},"axis":{"orient":"right","values":[0,200000,400000,600000,800000,1000000,1200000,1400000,1600000,1800000,2000000],"tickSize":-15,"labels":false,"title":null}}}},
{"data":{"values":[{"x":942,"y":1160000,"y2":1680000},{"x":1058,"y":1160000,"y2":1680000}]},"mark":{"type":"rule","color":"#FF0000","strokeWidth":6},
"encoding":{"x":{"field":"x","type":"quantitative","scale":{"domain":[0,2000],"nice":false,"zero":false},"axis":null},
"y":{"field":"y","type":"quantitative","scale":{"domain":[0,2000000],"nice":false,"zero":false},"axis":null},"y2":{"field":"y2"}}},
{"data":{"values":[{"x":101,"y":1516000,"t":"L=116"}]},"mark":{"type":"text","align":"left","baseline":"middle","font":"Liberation Sans","fontWeight":"bold","fontSize":76,"color":"#FF0000"},
"encoding":{"x":{"field":"x","type":"quantitative","scale":{"domain":[0,2000],"nice":false,"zero":false},"axis":null},"y":{"field":"y","type":"quantitative","scale":{"domain":[0,2000000],"nice":false,"zero":false},"axis":null},"text":{"field":"t"}}},
{"data":{"values":[{"x":0,"y":2000000,"t":"×10⁶"}]},"mark":{"type":"text","align":"left","baseline":"bottom","dy":-6,"font":"Liberation Sans","fontSize":52,"color":"#262626"},
"encoding":{"x":{"field":"x","type":"quantitative","scale":{"domain":[0,2000],"nice":false,"zero":false},"axis":null},"y":{"field":"y","type":"quantitative","scale":{"domain":[0,2000000],"nice":false,"zero":false},"axis":null},"text":{"field":"t"}}}
]}
]
}
